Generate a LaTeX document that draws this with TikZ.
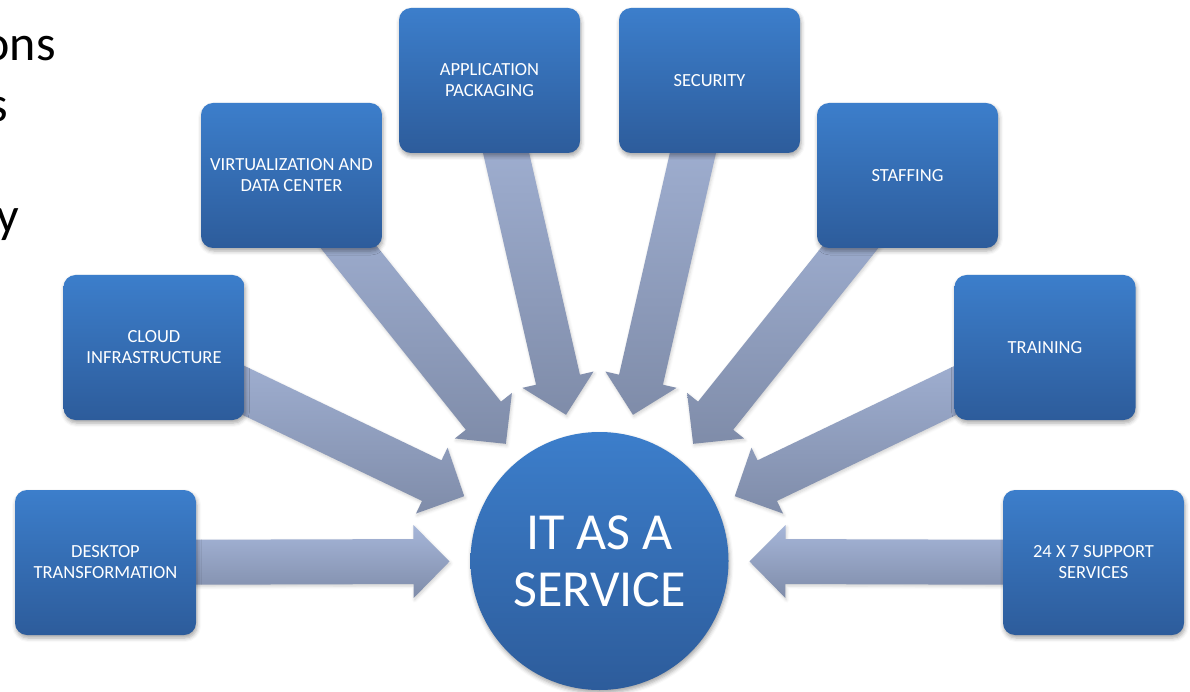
\documentclass[tikz,border=0pt]{standalone}
\usepackage{fontspec}
\setmainfont{Carlito}
\usetikzlibrary{calc,shadows.blur}
\definecolor{boxtop}{HTML}{3C7ECB}
\definecolor{boxbot}{HTML}{2D5C9B}
\definecolor{arrlight}{HTML}{A6B6D9}
\definecolor{arrdark}{HTML}{7F8CA9}
\pgfdeclarelayer{bg}
\pgfsetlayers{bg,main}
\tikzset{
  tile/.style={rounded corners=12pt, minimum width=181pt, minimum height=145pt,
    inner sep=0pt, top color=boxtop, bottom color=boxbot, draw=none, text=white,
    align=center, font=\fontsize{18.5}{21}\selectfont,
    blur shadow={shadow xshift=1pt, shadow yshift=-3pt, shadow blur radius=4pt, shadow opacity=35}},
  hub/.style={circle, minimum size=258pt, inner sep=0pt, top color=boxtop,
    bottom color=boxbot, draw=none, text=white, align=center,
    font=\fontsize{52}{57}\selectfont,
    blur shadow={shadow xshift=1pt, shadow yshift=-3pt, shadow blur radius=4pt, shadow opacity=35}},
  flow/.style={top color=arrlight, bottom color=arrdark, draw=none,
    blur shadow={shadow xshift=1pt, shadow yshift=-2pt, shadow blur radius=3pt, shadow opacity=18}},
  frag/.style={anchor=base east, inner sep=0pt, text=black, font=\fontsize{50}{60}\selectfont}
}
\newcommand{\flowarrow}[1]{%
  \coordinate (#1-tip) at ($(svc.center)!150pt!(#1.center)$);
  \coordinate (#1-hb) at ($(#1-tip)!36pt!(#1.center)$);
  \path[flow] ($(#1.center)!22.5pt!90:(#1-tip)$)
    -- ($(#1-hb)!22.5pt!-90:(#1.center)$)
    -- ($(#1-hb)!36.5pt!-90:(#1.center)$)
    -- (#1-tip)
    -- ($(#1-hb)!36.5pt!90:(#1.center)$)
    -- ($(#1-hb)!22.5pt!90:(#1.center)$)
    -- ($(#1.center)!22.5pt!-90:(#1-tip)$) -- cycle;
}
\begin{document}
\begin{tikzpicture}[x=1pt,y=-1pt]
\useasboundingbox (0,0) rectangle (1190,692);
\clip (0,0) rectangle (1190,692);

% cropped slide text at the left edge
\node[frag] (frag1) at (56,61) {ons};
\node[frag] (frag2) at (8,122) {s};
\node[frag] (frag3) at (19,233) {y};

% centre
\node[hub] (svc) at (599.5,561) {IT AS A\\SERVICE};

% boxes
\node[tile] (desk)  at (105.5,562.5) {DESKTOP\\TRANSFORMATION};
\node[tile] (cloud) at (154,347.5)   {CLOUD\\INFRASTRUCTURE};
\node[tile] (virt)  at (291.5,175.5) {VIRTUALIZATION AND\\DATA CENTER};
\node[tile] (app)   at (489.5,80.5)  {APPLICATION\\PACKAGING};
\node[tile] (sec)   at (709.5,80.5)  {SECURITY};
\node[tile] (staff) at (907.5,175.5) {STAFFING};
\node[tile] (train) at (1045,347.5)  {TRAINING};
\node[tile] (supp)  at (1093.5,562.5) {24 X 7 SUPPORT\\SERVICES};

\begin{pgfonlayer}{bg}
  \flowarrow{desk}
  \flowarrow{cloud}
  \flowarrow{virt}
  \flowarrow{app}
  \flowarrow{sec}
  \flowarrow{staff}
  \flowarrow{train}
  \flowarrow{supp}
\end{pgfonlayer}
\end{tikzpicture}
\end{document}
